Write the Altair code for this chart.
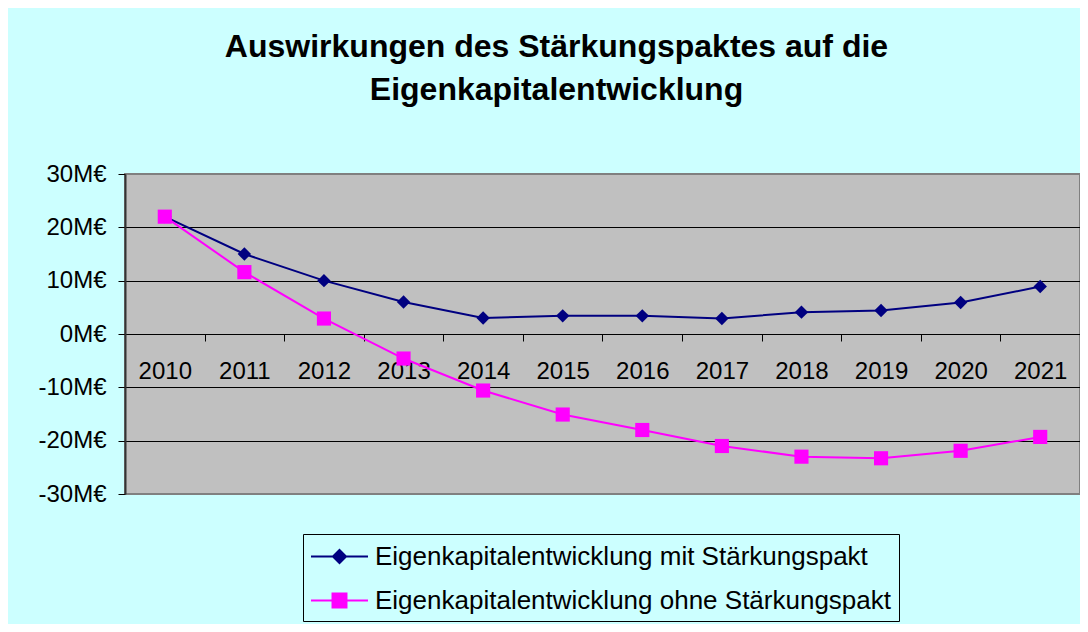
import altair as alt
import pandas as pd

years = ["2010", "2011", "2012", "2013", "2014", "2015", "2016", "2017", "2018", "2019", "2020", "2021"]
mit = [22.0, 15.0, 10.0, 6.0, 3.0, 3.4, 3.4, 2.9, 4.1, 4.4, 5.9, 8.9]
ohne = [22.0, 11.6, 2.9, -4.6, -10.6, -15.1, -18.0, -21.0, -23.0, -23.3, -21.9, -19.3]
series_names = ["Eigenkapitalentwicklung mit Stärkungspakt",
                "Eigenkapitalentwicklung ohne Stärkungspakt"]
y_ticks = [-30, -20, -10, 0, 10, 20, 30]
title_lines = ["Auswirkungen des Stärkungspaktes auf die", "Eigenkapitalentwicklung"]

NAVY = "#000080"
MAGENTA = "#FF00FF"
FONT = "Liberation Sans"

rows = []
for y, a, b in zip(years, mit, ohne):
    rows.append({"year": y, "value": a, "series": series_names[0]})
    rows.append({"year": y, "value": b, "series": series_names[1]})
df = pd.DataFrame(rows)

x_enc = alt.X(
    "year:O",
    bandPosition=0.5,
    scale=alt.Scale(type="band", paddingInner=0, paddingOuter=0),
    axis=alt.Axis(
        title=None, orient="bottom", offset=-160, tickBand="extent",
        domainColor="black", domainWidth=1, tickColor="black", tickSize=7,
        labelFont=FONT, labelFontSize=24, labelColor="black", labelPadding=18,
        labelAngle=0, grid=False,
    ),
)
y_enc = alt.Y(
    "value:Q",
    scale=alt.Scale(domain=[-30, 30], nice=False, zero=False),
    axis=alt.Axis(
        title=None, values=y_ticks, labelExpr="datum.value + 'M€'",
        grid=True,
        gridColor={"condition": {"test": "abs(datum.value) == 30", "value": "#808080"}, "value": "black"},
        gridWidth=1, domainColor="#333333", domainWidth=2,
        tickColor="black", tickSize=7, labelFont=FONT, labelFontSize=24,
        labelColor="black", labelPadding=12,
    ),
)

base = alt.Chart(df).encode(x=x_enc, y=y_enc)

line_a = base.transform_filter(alt.datum.series == series_names[0]).mark_line(color=NAVY, strokeWidth=2)
line_b = base.transform_filter(alt.datum.series == series_names[1]).mark_line(color=MAGENTA, strokeWidth=2)
pts_a = base.transform_filter(alt.datum.series == series_names[0]).mark_point(
    filled=True, shape="diamond", size=180, color=NAVY, opacity=1)
pts_b = base.transform_filter(alt.datum.series == series_names[1]).mark_point(
    filled=True, shape="square", size=200, color=MAGENTA, opacity=1)

diamond_sym = "M-2,0H2M0,-0.46L0.46,0L0,0.46L-0.46,0Z"
square_sym = "M-2,0H2M-0.49,-0.49H0.49V0.49H-0.49Z"

legend = alt.Legend(
    title=None, orient="none", legendX=178, legendY=360, direction="vertical",
    fillColor="#CCFFFF", strokeColor="black", padding=7,
    labelFont=FONT, labelFontSize=26, labelColor="black", labelLimit=0,
    symbolSize=812, symbolStrokeWidth=2, symbolOffset=14, labelOffset=20,
    rowPadding=15, symbolOpacity=1,
)

legend_layer = base.transform_filter("false").mark_point(filled=True, strokeWidth=2, opacity=1).encode(
    color=alt.Color("series:N", scale=alt.Scale(domain=series_names, range=[NAVY, MAGENTA]), legend=legend),
    stroke=alt.Stroke("series:N", scale=alt.Scale(domain=series_names, range=[NAVY, MAGENTA]), legend=legend),
    shape=alt.Shape("series:N", scale=alt.Scale(domain=series_names, range=[diamond_sym, square_sym]), legend=legend),
)

chart = alt.layer(line_a, line_b, pts_a, pts_b, legend_layer).properties(
    width=955, height=320,
    padding={"left": 117, "top": 166, "right": 0, "bottom": 130},
    autosize=alt.AutoSizeParams(type="none"),
    background="#CCFFFF",
    title=alt.Title(
        title_lines, font=FONT, fontSize=32, fontWeight="bold", color="black",
        anchor="middle", frame="group", dx=-46, offset=55, lineHeight=43,
    ),
).configure_view(fill="#C0C0C0", stroke="#808080", strokeWidth=2)

chart.save("out.html", embed_options={"renderer": "svg", "actions": False})
